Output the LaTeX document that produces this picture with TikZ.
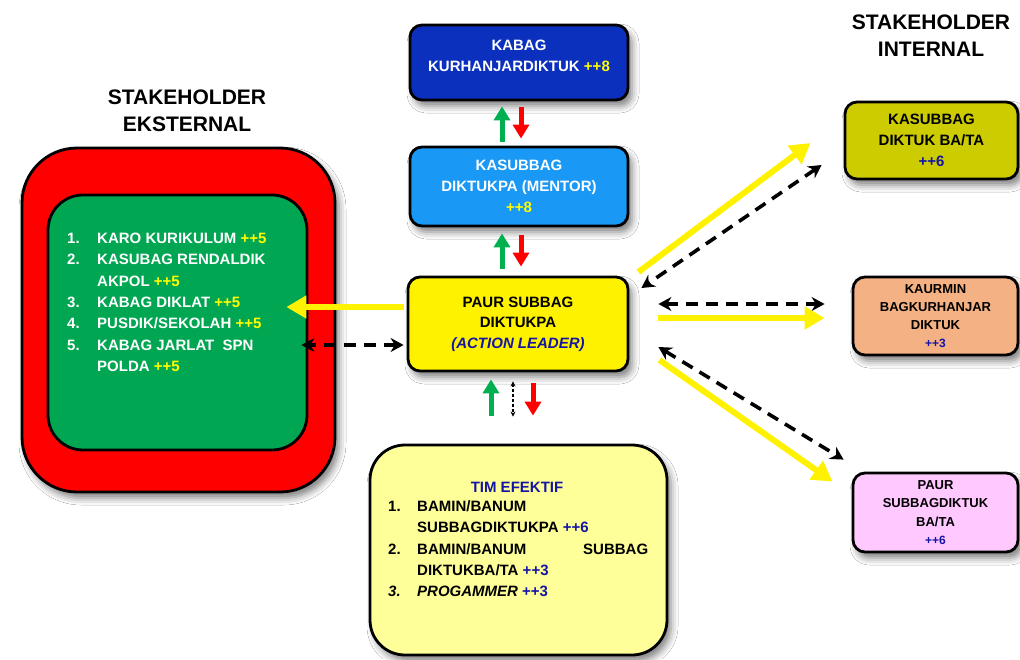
\documentclass[tikz,border=0pt]{standalone}
\usepackage{fontspec}
\setmainfont{Liberation Sans}
\usetikzlibrary{arrows.meta,calc,shadows.blur}
\definecolor{cRedBox}{RGB}{255,0,0}
\definecolor{cGrn}{RGB}{0,166,81}
\definecolor{cKabag}{RGB}{12,48,190}
\definecolor{cMentor}{RGB}{25,152,245}
\definecolor{cLtYel}{RGB}{255,255,153}
\definecolor{cOlive}{RGB}{204,204,0}
\definecolor{cSalmon}{RGB}{244,177,131}
\definecolor{cPink}{RGB}{255,200,255}
\definecolor{cNavy}{RGB}{20,20,165}
\definecolor{cArrG}{RGB}{0,176,80}
\definecolor{cArrR}{RGB}{255,0,0}
\definecolor{cTxtY}{RGB}{255,255,0}
\begin{document}
\begin{tikzpicture}[x=1pt,y=-1pt,
  font=\bfseries,
  box/.style={draw=black, line width=2.8pt, rounded corners=12pt, inner sep=0pt,
    blur shadow={shadow xshift=4pt, shadow yshift=-6pt, shadow blur radius=7pt, shadow opacity=50}},
  txt/.style={align=center, font=\bfseries\fontsize{15}{21}\selectfont, inner sep=0pt},
  smalltxt/.style={align=center, font=\bfseries\fontsize{13}{18.2}\selectfont, inner sep=0pt},
  head/.style={align=center, font=\bfseries\fontsize{21}{27.5}\selectfont, inner sep=0pt},
  yarrow/.style={draw=yellow, line width=6pt, -{Triangle[length=20pt,width=22pt]}},
  darrow/.style={draw=black, line width=3.6pt, dash pattern=on 12pt off 8pt,
    {Stealth[length=13pt,width=14pt]}-{Stealth[length=13pt,width=14pt]}},
  dotarrow/.style={draw=black, line width=1.2pt, dash pattern=on 3pt off 2pt,
    {Stealth[length=5pt,width=5pt]}-{Stealth[length=5pt,width=5pt]}},
  garrow/.style={draw=cArrG, line width=5pt, -{Triangle[length=14pt,width=16pt]}},
  rarrow/.style={draw=cArrR, line width=5pt, -{Triangle[length=14pt,width=16pt]}}]
\useasboundingbox (0,0) rectangle (1020,659);
\fill[white] (0,0) rectangle (1020,659);
\clip (0,0) rectangle (1020,659);

% headers
\node[head] (hEks) at (187,111) {STAKEHOLDER\\EKSTERNAL};
\node[head] (hInt) at (931,35.5) {STAKEHOLDER\\INTERNAL};

% external stakeholder boxes
\node[box, fill=cRedBox, rounded corners=55pt, minimum width=313pt, minimum height=344pt] (ext) at (178.5,320) {};
\node[draw=black, line width=2.8pt, fill=cGrn, rounded corners=35pt, minimum width=259pt, minimum height=255pt, inner sep=0pt] (grn) at (177.5,322.5) {};
\node[anchor=base west, inner sep=0pt, text=white, font=\bfseries\fontsize{15}{21.3}\selectfont] (grnT) at (67,243.5) {%
\begin{tabular}[t]{@{}p{30pt}@{}l@{}}
1.& KARO KURIKULUM \textcolor{cTxtY}{++5}\\
2.& KASUBAG RENDALDIK\\
  & AKPOL \textcolor{cTxtY}{++5}\\
3.& KABAG DIKLAT \textcolor{cTxtY}{++5}\\
4.& PUSDIK/SEKOLAH \textcolor{cTxtY}{++5}\\
5.& KABAG JARLAT\ \ SPN\\
  & POLDA \textcolor{cTxtY}{++5}
\end{tabular}};

% central column
\node[box, fill=cKabag, minimum width=218pt, minimum height=75pt] (kabag) at (519,62.5) {};
\node[txt, text=white] (kabagT) at (519,55.5) {KABAG\\KURHANJARDIKTUK \textcolor{cTxtY}{++8}};
\node[box, txt, fill=cMentor, text=white, minimum width=218pt, minimum height=79pt] (mentor) at (519,186.5) {KASUBBAG\\DIKTUKPA (MENTOR)\\\textcolor{cTxtY}{++8}};
\node[box, fill=yellow, minimum width=220pt, minimum height=94pt] (paur) at (518,324) {};
\node[txt, font=\bfseries\fontsize{15}{20.5}\selectfont] (paurT) at (518,324) {PAUR SUBBAG\\DIKTUKPA\\\textcolor{cNavy}{\itshape (ACTION LEADER)}};

\node[box, fill=cLtYel, rounded corners=35pt, minimum width=297pt, minimum height=210pt] (tim) at (518.5,550) {};
\node[txt, text=cNavy] (timH) at (517,487) {TIM EFEKTIF};
\node[anchor=base west, inner sep=0pt, font=\bfseries\fontsize{15}{21.25}\selectfont] (timT) at (388,511.5) {%
\begin{tabular}[t]{@{}p{29pt}@{}l@{}}
1.& BAMIN/BANUM\\
  & SUBBAGDIKTUKPA \textcolor{cNavy}{++6}\\
2.& \makebox[231pt][l]{BAMIN/BANUM\hfill SUBBAG}\\
  & DIKTUKBA/TA \textcolor{cNavy}{++3}\\
\textit{3.}& \textit{PROGAMMER} \textcolor{cNavy}{++3}
\end{tabular}};

% internal stakeholder boxes
\node[box, txt, fill=cOlive, minimum width=173pt, minimum height=77pt] (kbt) at (931.5,140.5) {KASUBBAG\\DIKTUK BA/TA\\\textcolor{cNavy}{++6}};
\node[box, smalltxt, fill=cSalmon, minimum width=165pt, minimum height=78pt] (kaur) at (935.5,316) {KAURMIN\\BAGKURHANJAR\\DIKTUK\\\textcolor{cNavy}{\fontsize{12}{16}\selectfont ++3}};
\node[box, smalltxt, fill=cPink, minimum width=165pt, minimum height=79pt] (pink) at (935.5,512.5) {PAUR\\SUBBAGDIKTUK\\BA/TA\\\textcolor{cNavy}{\fontsize{12}{16}\selectfont ++6}};

% vertical arrows
\draw[garrow] ($(mentor.north)+(-17,-4)$) -- ($(kabag.south)+(-17,5)$);
\draw[rarrow] ($(kabag.south)+(2,6)$) -- ($(mentor.north)+(2,-7)$);
\draw[garrow] ($(paur.north)+(-16,-7)$) -- ($(mentor.south)+(-17,6)$);
\draw[rarrow] ($(mentor.south)+(2,8)$) -- ($(paur.north)+(3,-9)$);
\draw[garrow] ($(tim.north)+(-27.5,-28)$) -- ($(paur.south)+(-27,7)$);
\draw[dotarrow] ($(paur.south)+(-5,9)$) -- ($(tim.north)+(-5.5,-27)$);
\draw[rarrow] ($(paur.south)+(15,11)$) -- ($(tim.north)+(14.5,-28)$);

% left arrows
\draw[yarrow] ($(paur.west)+(-3,-17)$) -- ($(grn.east)+(-22,-15.5)$);
\draw[darrow] ($(paur.west)+(-3,21)$) -- ($(grn.east)+(-7,22.5)$);

% right arrows
\draw[yarrow] ($(paur.east)+(9,-52)$) -- ($(kbt.west)+(-33,2.5)$);
\draw[darrow] ($(kbt.west)+(-22,24.5)$) -- ($(paur.east)+(12,-36)$);
\draw[darrow] ($(paur.east)+(29,-20)$) -- ($(kaur.west)+(-27,-12)$);
\draw[yarrow] ($(paur.east)+(29,-6)$) -- ($(kaur.west)+(-27,2)$);
\draw[darrow] ($(paur.east)+(29,23)$) -- ($(pink.north west)+(-8,-12)$);
\draw[yarrow] ($(paur.east)+(30,36)$) -- ($(pink.north west)+(-19,10)$);
\end{tikzpicture}
\end{document}
